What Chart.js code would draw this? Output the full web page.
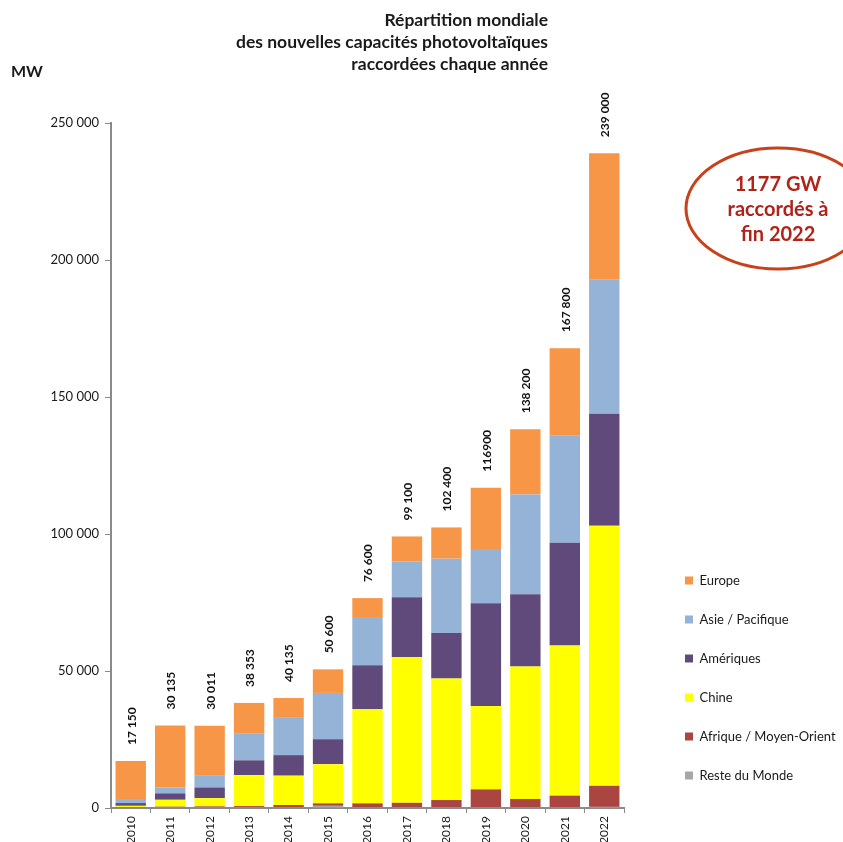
<!DOCTYPE html>
<html lang="fr">
<head>
<meta charset="utf-8">
<title>Répartition mondiale des nouvelles capacités photovoltaïques</title>
<script src="https://cdn.jsdelivr.net/npm/chart.js@4.4.1/dist/chart.umd.min.js"></script>
<style>
    html, body { margin: 0; padding: 0; background: #ffffff; }
    #wrap { width: 843px; height: 842px; }
</style>
</head>
<body>
<div id="wrap"><canvas id="pvChart" width="843" height="842"></canvas></div>
<script>
// Nouvelles capacités raccordées par an et par région (MW)
const years = ['2010', '2011', '2012', '2013', '2014', '2015', '2016', '2017', '2018', '2019', '2020', '2021', '2022'];
const resteDuMonde = [150, 300, 300, 300, 300, 800, 300, 300, 300, 300, 300, 300, 400];
const afriqueMoyenOrient = [150, 200, 300, 400, 800, 900, 1400, 1600, 2600, 6500, 3000, 4200, 7700];
const chine = [500, 2500, 3000, 11300, 10700, 14300, 34300, 53200, 44400, 30400, 48300, 54800, 94900];
const ameriques = [1000, 2350, 3900, 5400, 7500, 9100, 16100, 21800, 16600, 37500, 26400, 37500, 40900];
const asiePacifique = [1500, 2200, 4500, 9700, 13600, 16900, 17600, 13000, 27100, 19800, 36400, 39100, 48900];
const europe = [13850, 22585, 18011, 11253, 7235, 8600, 6900, 9200, 11400, 22400, 23800, 31900, 46200];
// Totaux affichés au-dessus des barres
const totalLabels = ['17 150', '30 135', '30 011', '38 353', '40 135', '50 600', '76 600', '99 100', '102 400', '116900', '138 200', '167 800', '239 000'];
const yTicks = [0, 50000, 100000, 150000, 200000, 250000];

const titleLines = ['Répartition mondiale', 'des nouvelles capacités photovoltaïques', 'raccordées chaque année'];
const noteLines = ['1177 GW', 'raccordés à', 'fin 2022'];

const FONT = "Lato, 'Liberation Sans', Arial, sans-serif";
const AXIS_COLOR = '#8a8a8a';
const LEGEND_WIDTH = 219;
const LEGEND_SHIFT = 35;

function formatMW(value) {
    return String(value).replace(/\B(?=(\d{3})+(?!\d))/g, ' ');
}

const series = [
    { label: 'Reste du Monde', data: resteDuMonde, color: '#a6a6a6' },
    { label: 'Afrique / Moyen-Orient', data: afriqueMoyenOrient, color: '#ab4542' },
    { label: 'Chine', data: chine, color: '#ffff00' },
    { label: 'Amériques', data: ameriques, color: '#604a7b' },
    { label: 'Asie / Pacifique', data: asiePacifique, color: '#95b3d7' },
    { label: 'Europe', data: europe, color: '#f79646' },
];

// Legend sits at the bottom right, with a gap after the plot area
const legendPlacement = {
    id: 'legendPlacement',
    beforeLayout(chart) {
        const legend = chart.legend;
        if (legend && !legend._widthPatched) {
            const fit = legend.fit;
            legend.fit = function () {
                fit.call(this);
                this.width = LEGEND_WIDTH;
            };
            legend._widthPatched = true;
        }
    },
    afterLayout(chart) {
        if (chart.legend) chart.legend.left += LEGEND_SHIFT;
    },
};

// Rotated totals above each stacked bar
const totalsPlugin = {
    id: 'totals',
    afterDatasetsDraw(chart) {
        const { ctx } = chart;
        const yScale = chart.scales.y;
        const topMeta = chart.getDatasetMeta(series.length - 1);
        ctx.save();
        ctx.font = `bold 12px ${FONT}`;
        ctx.fillStyle = '#111111';
        ctx.textAlign = 'left';
        ctx.textBaseline = 'middle';
        years.forEach((year, i) => {
            const total = series.reduce((sum, s) => sum + s.data[i], 0);
            const x = topMeta.data[i].x;
            const y = yScale.getPixelForValue(total) - 16;
            ctx.save();
            ctx.translate(x + 1, y);
            ctx.rotate(-Math.PI / 2);
            ctx.fillText(totalLabels[i], 0, 0);
            ctx.restore();
        });
        ctx.restore();
    },
};

// Title block, unit label and the cumulative note
const annotations = {
    id: 'annotations',
    afterDraw(chart) {
        const { ctx } = chart;
        ctx.save();
        ctx.fillStyle = '#1a1a1a';
        ctx.font = `bold 17.5px ${FONT}`;
        ctx.textAlign = 'right';
        ctx.textBaseline = 'middle';
        titleLines.forEach((line, i) => ctx.fillText(line, 548, 20 + i * 22));

        ctx.textAlign = 'left';
        ctx.font = `bold 16px ${FONT}`;
        ctx.fillText('MW', 11, 72);

        ctx.beginPath();
        ctx.ellipse(778, 208.5, 92, 60.5, 0, 0, Math.PI * 2);
        ctx.strokeStyle = '#c8411b';
        ctx.lineWidth = 3;
        ctx.stroke();

        ctx.fillStyle = '#b0231a';
        ctx.font = `bold 20px ${FONT}`;
        ctx.textAlign = 'center';
        noteLines.forEach((line, i) => ctx.fillText(line, 778, 185 + i * 25));
        ctx.restore();
    },
};

new Chart(document.getElementById('pvChart'), {
    type: 'bar',
    data: {
        labels: years,
        datasets: series.map((s) => ({
            label: s.label,
            data: s.data,
            backgroundColor: s.color,
            borderWidth: 0,
            categoryPercentage: 1,
            barPercentage: 0.77,
        })),
    },
    options: {
        responsive: false,
        animation: false,
        layout: {
            padding: { top: 123, right: 0, bottom: 0, left: 0 },
        },
        plugins: {
            title: { display: false },
            tooltip: { enabled: false },
            legend: {
                position: 'right',
                align: 'end',
                fullSize: false,
                reverse: true,
                labels: {
                    boxWidth: 8,
                    boxHeight: 8,
                    padding: 26,
                    color: '#1a1a1a',
                    font: { family: FONT, size: 13 },
                },
            },
        },
        scales: {
            x: {
                stacked: true,
                border: { color: AXIS_COLOR, width: 2 },
                grid: {
                    display: true,
                    drawOnChartArea: false,
                    drawTicks: true,
                    tickLength: 5,
                    color: AXIS_COLOR,
                    offset: true,
                },
                ticks: {
                    minRotation: 90,
                    maxRotation: 90,
                    padding: 3,
                    color: '#1a1a1a',
                    font: { family: FONT, size: 12 },
                },
                afterFit(scale) {
                    scale.height = 34;
                },
            },
            y: {
                stacked: true,
                min: 0,
                max: 250000,
                border: { color: AXIS_COLOR, width: 2 },
                grid: {
                    display: true,
                    drawOnChartArea: false,
                    drawTicks: true,
                    tickLength: 6,
                    color: AXIS_COLOR,
                },
                afterBuildTicks(scale) {
                    scale.ticks = yTicks.map((v) => ({ value: v }));
                },
                ticks: {
                    padding: 6,
                    color: '#1a1a1a',
                    font: { family: FONT, size: 13 },
                    callback: (value) => formatMW(value),
                },
                afterFit(scale) {
                    scale.width = 111;
                },
            },
        },
    },
    plugins: [legendPlacement, totalsPlugin, annotations],
});
</script>
</body>
</html>
